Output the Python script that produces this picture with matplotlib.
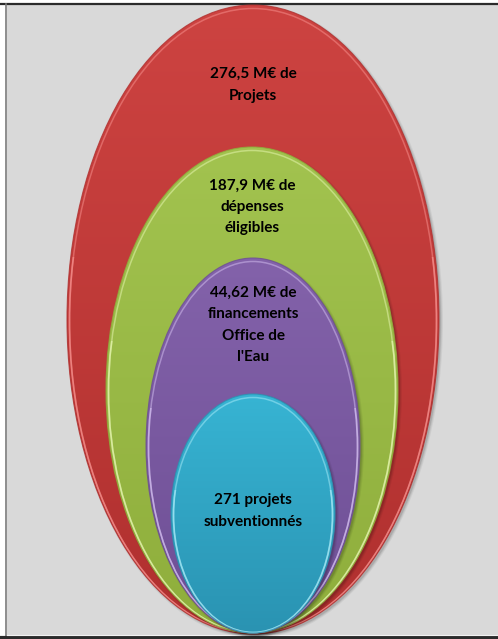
import numpy as np
import matplotlib
matplotlib.use("Agg")
import matplotlib.pyplot as plt
from matplotlib import font_manager
from matplotlib.patches import Ellipse, Rectangle
from matplotlib.colors import LinearSegmentedColormap, to_rgb

# Nested figures, outermost first
labels = [
    "276,5 M€ de\nProjets",
    "187,9 M€ de\ndépenses\néligibles",
    "44,62 M€ de\nfinancements\nOffice de\nl'Eau",
    "271 projets\nsubventionnés",
]
top_colors = ["#cd4341", "#a2c34f", "#8362aa", "#37b4d3"]
bottom_colors = ["#b0302f", "#8fae3c", "#6e4f95", "#2a93b2"]
rim_colors = ["#ff9d9a", "#f2ffc0", "#e0cdfb", "#b8f4ff"]

# Layout in pixel units: (center x, top y, bottom y, width), label centre y
shapes = [
    (253, 5, 634, 372),
    (252, 147, 633, 292),
    (253, 258, 633, 214),
    (253, 394, 633, 164),
]
label_y = [85, 207, 325, 511]

installed = {f.name for f in font_manager.fontManager.ttflist}
label_family = [f for f in ["Liberation Sans Narrow", "Lato", "DejaVu Sans"] if f in installed]
narrow = label_family[0] == "Liberation Sans Narrow"

W, H = 498, 639
fig = plt.figure(figsize=(W / 100, H / 100), dpi=100)
ax = fig.add_axes([0, 0, 1, 1])
ax.set_xlim(0, W)
ax.set_ylim(H, 0)
ax.axis("off")
fig.patch.set_facecolor("white")

# Panel background and frame lines
ax.add_patch(Rectangle((7, 5), W - 7, 630, facecolor="#d9d9d9", edgecolor="none", zorder=0))
ax.plot([0, W], [3.5, 3.5], color="#2b2b2b", lw=1.6, zorder=1)
ax.plot([6, 6], [4, 636], color="#7a7a7a", lw=1.2, zorder=1)
ax.plot([0, W], [637.5, 637.5], color="#2b2b2b", lw=3.0, zorder=1)
ax.plot([7, W], [634.5, 634.5], color="#f2f2f2", lw=0.8, zorder=1)

for i, ((cx, ty, by, w), lab) in enumerate(zip(shapes, labels)):
    h = by - ty
    cy = (ty + by) / 2
    z = 2 + i * 4

    # soft drop shadow
    for k, a in enumerate([0.10, 0.07, 0.05]):
        sh = Ellipse((cx + 2, cy + 2), w + 2 * k, h + 2 * k, facecolor="black",
                     edgecolor="none", alpha=a, zorder=z)
        ax.add_patch(sh)

    body = Ellipse((cx, cy), w, h, facecolor="none", edgecolor="none", zorder=z + 1)
    ax.add_patch(body)
    cmap = LinearSegmentedColormap.from_list(
        f"g{i}", [to_rgb(top_colors[i]), to_rgb(bottom_colors[i])])
    grad = np.linspace(0, 1, 256).reshape(-1, 1)
    im = ax.imshow(grad, cmap=cmap, aspect="auto",
                   extent=(cx - w / 2, cx + w / 2, by, ty), zorder=z + 1,
                   interpolation="bilinear")
    im.set_clip_path(body)

    # light bevel rim just inside the edge, stronger towards the bottom
    rim = Ellipse((cx, cy + 1.5), w - 5, h - 4, facecolor="none",
                  edgecolor=rim_colors[i], lw=1.1, alpha=0.45, zorder=z + 2)
    ax.add_patch(rim)
    rim.set_clip_path(body)
    rim2 = Ellipse((cx, cy + 1.5), w - 5, h - 4, facecolor="none",
                   edgecolor=rim_colors[i], lw=1.3, alpha=0.5, zorder=z + 2)
    ax.add_patch(rim2)
    rim2.set_clip_path(Rectangle((0, cy - h * 0.1), W, H, transform=ax.transData))
    edge = Ellipse((cx, cy), w, h, facecolor="none", edgecolor=bottom_colors[i],
                   lw=0.8, alpha=0.8, zorder=z + 2)
    ax.add_patch(edge)

    ax.text(cx, label_y[i], lab, ha="center", va="center",
            fontsize=12.5 if narrow else 11,
            fontweight="bold", family=label_family, color="black",
            linespacing=1.68, zorder=z + 3)

fig.savefig("out.png", dpi=100, facecolor=fig.get_facecolor())
